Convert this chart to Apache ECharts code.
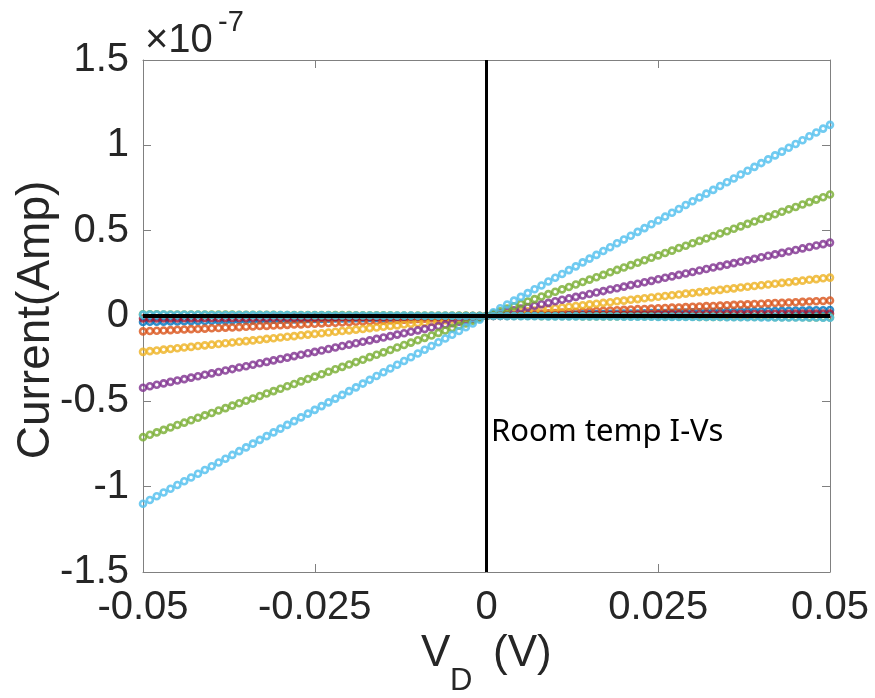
<!DOCTYPE html>
<html>
<head>
<meta charset="utf-8">
<script src="https://cdn.jsdelivr.net/npm/echarts@6/dist/echarts.min.js"></script>
<style>html,body{margin:0;padding:0;background:#fff}#c{width:875px;height:698px}</style>
</head>
<body>
<div id="c"></div>
<script>
// Drain voltage (V)
const vd = [
-0.050,-0.049,-0.048,-0.047,-0.046,-0.045,-0.044,-0.043,-0.042,-0.041,
-0.040,-0.039,-0.038,-0.037,-0.036,-0.035,-0.034,-0.033,-0.032,-0.031,
-0.030,-0.029,-0.028,-0.027,-0.026,-0.025,-0.024,-0.023,-0.022,-0.021,
-0.020,-0.019,-0.018,-0.017,-0.016,-0.015,-0.014,-0.013,-0.012,-0.011,
-0.010,-0.009,-0.008,-0.007,-0.006,-0.005,-0.004,-0.003,-0.002,-0.001,
0.000,
0.001,0.002,0.003,0.004,0.005,0.006,0.007,0.008,0.009,0.010,
0.011,0.012,0.013,0.014,0.015,0.016,0.017,0.018,0.019,0.020,
0.021,0.022,0.023,0.024,0.025,0.026,0.027,0.028,0.029,0.030,
0.031,0.032,0.033,0.034,0.035,0.036,0.037,0.038,0.039,0.040,
0.041,0.042,0.043,0.044,0.045,0.046,0.047,0.048,0.049,0.050];

// Currents in units of 1e-7 A
const iBlue = [
-0.035,-0.034,-0.034,-0.033,-0.032,-0.032,-0.031,-0.030,-0.029,-0.029,
-0.028,-0.027,-0.027,-0.026,-0.025,-0.025,-0.024,-0.023,-0.022,-0.022,
-0.021,-0.020,-0.020,-0.019,-0.018,-0.018,-0.017,-0.016,-0.015,-0.015,
-0.014,-0.013,-0.013,-0.012,-0.011,-0.011,-0.010,-0.009,-0.008,-0.008,
-0.007,-0.006,-0.006,-0.005,-0.004,-0.004,-0.003,-0.002,-0.001,-0.001,
0,
0.001,0.001,0.002,0.003,0.004,0.004,0.005,0.006,0.006,0.007,
0.008,0.008,0.009,0.010,0.011,0.011,0.012,0.013,0.013,0.014,
0.015,0.015,0.016,0.017,0.018,0.018,0.019,0.020,0.020,0.021,
0.022,0.022,0.023,0.024,0.025,0.025,0.026,0.027,0.027,0.028,
0.029,0.029,0.030,0.031,0.032,0.032,0.033,0.034,0.034,0.035];

const iOrange = [
-0.090,-0.088,-0.086,-0.085,-0.083,-0.081,-0.079,-0.077,-0.076,-0.074,
-0.072,-0.070,-0.068,-0.067,-0.065,-0.063,-0.061,-0.059,-0.058,-0.056,
-0.054,-0.052,-0.050,-0.049,-0.047,-0.045,-0.043,-0.041,-0.040,-0.038,
-0.036,-0.034,-0.032,-0.031,-0.029,-0.027,-0.025,-0.023,-0.022,-0.020,
-0.018,-0.016,-0.014,-0.013,-0.011,-0.009,-0.007,-0.005,-0.004,-0.002,
0,
0.002,0.004,0.005,0.007,0.009,0.011,0.013,0.014,0.016,0.018,
0.020,0.022,0.023,0.025,0.027,0.029,0.031,0.032,0.034,0.036,
0.038,0.040,0.041,0.043,0.045,0.047,0.049,0.050,0.052,0.054,
0.056,0.058,0.059,0.061,0.063,0.065,0.067,0.068,0.070,0.072,
0.074,0.076,0.077,0.079,0.081,0.083,0.085,0.086,0.088,0.091];

const iYellow = [
-0.210,-0.206,-0.202,-0.197,-0.193,-0.189,-0.185,-0.181,-0.176,-0.172,
-0.168,-0.164,-0.160,-0.155,-0.151,-0.147,-0.143,-0.139,-0.134,-0.130,
-0.126,-0.122,-0.118,-0.113,-0.109,-0.105,-0.101,-0.097,-0.092,-0.088,
-0.084,-0.080,-0.076,-0.071,-0.067,-0.063,-0.059,-0.055,-0.050,-0.046,
-0.042,-0.038,-0.034,-0.029,-0.025,-0.021,-0.017,-0.013,-0.008,-0.004,
0,
0.005,0.009,0.014,0.018,0.023,0.027,0.032,0.036,0.041,0.045,
0.050,0.054,0.059,0.063,0.068,0.072,0.077,0.081,0.086,0.090,
0.095,0.099,0.104,0.108,0.113,0.117,0.122,0.126,0.131,0.135,
0.140,0.144,0.149,0.153,0.158,0.162,0.167,0.171,0.176,0.180,
0.185,0.189,0.194,0.198,0.203,0.207,0.212,0.216,0.221,0.225];

const iPurple = [
-0.420,-0.412,-0.403,-0.395,-0.386,-0.378,-0.370,-0.361,-0.353,-0.344,
-0.336,-0.328,-0.319,-0.311,-0.302,-0.294,-0.286,-0.277,-0.269,-0.260,
-0.252,-0.244,-0.235,-0.227,-0.218,-0.210,-0.202,-0.193,-0.185,-0.176,
-0.168,-0.160,-0.151,-0.143,-0.134,-0.126,-0.118,-0.109,-0.101,-0.092,
-0.084,-0.076,-0.067,-0.059,-0.050,-0.042,-0.034,-0.025,-0.017,-0.008,
0,
0.009,0.017,0.026,0.034,0.043,0.052,0.060,0.069,0.077,0.086,
0.095,0.103,0.112,0.120,0.129,0.138,0.146,0.155,0.163,0.172,
0.181,0.189,0.198,0.206,0.215,0.224,0.232,0.241,0.249,0.258,
0.267,0.275,0.284,0.292,0.301,0.310,0.318,0.327,0.335,0.344,
0.353,0.361,0.370,0.378,0.387,0.396,0.404,0.413,0.421,0.430];

const iGreen = [
-0.710,-0.696,-0.682,-0.667,-0.653,-0.639,-0.625,-0.611,-0.596,-0.582,
-0.568,-0.554,-0.540,-0.525,-0.511,-0.497,-0.483,-0.469,-0.454,-0.440,
-0.426,-0.412,-0.398,-0.383,-0.369,-0.355,-0.341,-0.327,-0.312,-0.298,
-0.284,-0.270,-0.256,-0.241,-0.227,-0.213,-0.199,-0.185,-0.170,-0.156,
-0.142,-0.128,-0.114,-0.099,-0.085,-0.071,-0.057,-0.043,-0.028,-0.014,
0,
0.014,0.028,0.043,0.057,0.071,0.085,0.099,0.114,0.128,0.142,
0.156,0.170,0.185,0.199,0.213,0.227,0.241,0.256,0.270,0.284,
0.298,0.312,0.327,0.341,0.355,0.369,0.383,0.398,0.412,0.426,
0.440,0.454,0.469,0.483,0.497,0.511,0.525,0.540,0.554,0.568,
0.582,0.596,0.611,0.625,0.639,0.653,0.667,0.682,0.696,0.712];

const iLightBlue = [
-1.100,-1.078,-1.056,-1.034,-1.012,-0.990,-0.968,-0.946,-0.924,-0.902,
-0.880,-0.858,-0.836,-0.814,-0.792,-0.770,-0.748,-0.726,-0.704,-0.682,
-0.660,-0.638,-0.616,-0.594,-0.572,-0.550,-0.528,-0.506,-0.484,-0.462,
-0.440,-0.418,-0.396,-0.374,-0.352,-0.330,-0.308,-0.286,-0.264,-0.242,
-0.220,-0.198,-0.176,-0.154,-0.132,-0.110,-0.088,-0.066,-0.044,-0.022,
0,
0.022,0.045,0.067,0.090,0.112,0.134,0.157,0.179,0.202,0.224,
0.246,0.269,0.291,0.314,0.336,0.358,0.381,0.403,0.426,0.448,
0.470,0.493,0.515,0.538,0.560,0.582,0.605,0.627,0.650,0.672,
0.694,0.717,0.739,0.762,0.784,0.806,0.829,0.851,0.874,0.896,
0.918,0.941,0.963,0.986,1.008,1.030,1.053,1.075,1.098,1.120];

const iDarkRed = [
-0.015,-0.015,-0.014,-0.014,-0.014,-0.014,-0.013,-0.013,-0.013,-0.012,
-0.012,-0.012,-0.011,-0.011,-0.011,-0.011,-0.010,-0.010,-0.010,-0.009,
-0.009,-0.009,-0.008,-0.008,-0.008,-0.008,-0.007,-0.007,-0.007,-0.006,
-0.006,-0.006,-0.005,-0.005,-0.005,-0.005,-0.004,-0.004,-0.004,-0.003,
-0.003,-0.003,-0.002,-0.002,-0.002,-0.002,-0.001,-0.001,-0.001,0.000,
0,
0.000,0.001,0.001,0.001,0.002,0.002,0.002,0.002,0.003,0.003,
0.003,0.004,0.004,0.004,0.005,0.005,0.005,0.005,0.006,0.006,
0.006,0.007,0.007,0.007,0.008,0.008,0.008,0.008,0.009,0.009,
0.009,0.010,0.010,0.010,0.011,0.011,0.011,0.011,0.012,0.012,
0.012,0.013,0.013,0.013,0.014,0.014,0.014,0.014,0.015,0.015];

const iGreen2 = [
0.010,0.010,0.010,0.009,0.009,0.009,0.009,0.009,0.009,0.008,
0.008,0.008,0.008,0.008,0.007,0.007,0.007,0.007,0.007,0.007,
0.006,0.006,0.006,0.006,0.006,0.005,0.005,0.005,0.005,0.005,
0.005,0.004,0.004,0.004,0.004,0.004,0.004,0.003,0.003,0.003,
0.003,0.003,0.002,0.002,0.002,0.002,0.002,0.002,0.001,0.001,
0.001,
0.001,0.001,0.000,0.000,0.000,0.000,0.000,-0.001,-0.001,-0.001,
-0.001,-0.001,-0.001,-0.002,-0.002,-0.002,-0.002,-0.002,-0.003,-0.003,
-0.003,-0.003,-0.003,-0.003,-0.004,-0.004,-0.004,-0.004,-0.004,-0.004,
-0.005,-0.005,-0.005,-0.005,-0.005,-0.006,-0.006,-0.006,-0.006,-0.006,
-0.006,-0.007,-0.007,-0.007,-0.007,-0.007,-0.008,-0.008,-0.008,-0.008];

const iLightBlue2 = [
0.008,0.008,0.008,0.008,0.007,0.007,0.007,0.007,0.007,0.007,
0.006,0.006,0.006,0.006,0.006,0.006,0.005,0.005,0.005,0.005,
0.005,0.005,0.004,0.004,0.004,0.004,0.004,0.004,0.003,0.003,
0.003,0.003,0.003,0.003,0.002,0.002,0.002,0.002,0.002,0.002,
0.001,0.001,0.001,0.001,0.001,0.001,0.000,0.000,0.000,0.000,
0.000,
0.000,0.000,-0.001,-0.001,-0.001,-0.001,-0.001,-0.001,-0.002,-0.002,
-0.002,-0.002,-0.002,-0.002,-0.003,-0.003,-0.003,-0.003,-0.003,-0.004,
-0.004,-0.004,-0.004,-0.004,-0.005,-0.005,-0.005,-0.005,-0.005,-0.006,
-0.006,-0.006,-0.006,-0.006,-0.007,-0.007,-0.007,-0.007,-0.007,-0.008,
-0.008,-0.008,-0.008,-0.009,-0.009,-0.009,-0.009,-0.009,-0.010,-0.010];

const seriesList = [
  {name: 'S1', values: iBlue, color: '#0072BD'},
  {name: 'S2', values: iOrange, color: '#D95319'},
  {name: 'S3', values: iYellow, color: '#EDB120'},
  {name: 'S4', values: iPurple, color: '#7E2F8E'},
  {name: 'S5', values: iGreen, color: '#77AC30'},
  {name: 'S6', values: iLightBlue, color: '#4DBEEE'},
  {name: 'S7', values: iDarkRed, color: '#A2142F'},
  {name: 'S8', values: iGreen2, color: '#77AC30'},
  {name: 'S9', values: iLightBlue2, color: '#4DBEEE'}
];

const xTicks = [-0.05, -0.025, 0, 0.025, 0.05];
const yTicks = [-1.5, -1, -0.5, 0, 0.5, 1, 1.5];

const FONT = '"Liberation Sans", Arial, Helvetica, sans-serif';
const AX = '#808080';
const TXT = '#262626';

const chart = echarts.init(document.getElementById('c'), null, {renderer: 'canvas'});

const series = seriesList.map((s, k) => ({
  name: s.name,
  type: 'scatter',
  symbol: 'circle',
  symbolSize: 6,
  itemStyle: {color: 'rgba(255,255,255,0)', borderColor: s.color, borderWidth: 2.6},
  emphasis: {disabled: true},
  silent: true,
  z: 2,
  data: vd.map((v, i) => [v, s.values[i]])
}));

series.push({
  type: 'line',
  data: [],
  silent: true,
  z: 5,
  markLine: {
    silent: true,
    symbol: ['none', 'none'],
    label: {show: false},
    animation: false,
    lineStyle: {color: '#000', width: 3, type: 'solid'},
    data: [{xAxis: 0}, {yAxis: 0, lineStyle: {width: 4}}]
  }
});

const axisCommon = {
  type: 'value',
  axisLine: {show: true, onZero: false, lineStyle: {color: AX, width: 1}},
  axisTick: {show: true, inside: true, length: 8, lineStyle: {color: AX, width: 1}},
  splitLine: {show: false}
};

chart.setOption({
  animation: false,
  backgroundColor: '#fff',
  grid: {left: 143, top: 60, right: 45, bottom: 126, containLabel: false},
  xAxis: [
    Object.assign({}, axisCommon, {
      position: 'bottom', min: xTicks[0], max: xTicks[xTicks.length - 1], interval: 0.025,
      axisLabel: {fontSize: 40, fontFamily: FONT, color: TXT, margin: 16,
        formatter: v => String(+v.toFixed(3))}
    }),
    Object.assign({}, axisCommon, {
      position: 'top', min: xTicks[0], max: xTicks[xTicks.length - 1], interval: 0.025,
      axisLabel: {show: false}
    })
  ],
  yAxis: [
    Object.assign({}, axisCommon, {
      position: 'left', min: yTicks[0], max: yTicks[yTicks.length - 1], interval: 0.5,
      axisLabel: {fontSize: 40, fontFamily: FONT, color: TXT, margin: 14,
        formatter: v => String(+v.toFixed(2))}
    }),
    Object.assign({}, axisCommon, {
      position: 'right', min: yTicks[0], max: yTicks[yTicks.length - 1], interval: 0.5,
      axisLabel: {show: false}
    })
  ],
  graphic: [
    {type: 'text', x: 145, y: 61, silent: true,
      style: {text: '×10', font: '40px ' + FONT, fill: TXT, textAlign: 'left', textVerticalAlign: 'bottom'}},
    {type: 'text', x: 218, y: 37, silent: true,
      style: {text: '-7', font: '29px ' + FONT, fill: TXT, textAlign: 'left', textVerticalAlign: 'bottom'}},
    {type: 'text', x: 36, y: 320, rotation: Math.PI / 2, silent: true,
      style: {text: 'Current(Amp)', font: '46px ' + FONT, fill: TXT, textAlign: 'center', textVerticalAlign: 'middle'}},
    {type: 'text', x: 421, y: 676, silent: true,
      style: {text: 'V', font: '44px ' + FONT, fill: TXT, textAlign: 'left', textVerticalAlign: 'bottom'}},
    {type: 'text', x: 450, y: 697, silent: true,
      style: {text: 'D', font: '31px ' + FONT, fill: TXT, textAlign: 'left', textVerticalAlign: 'bottom'}},
    {type: 'text', x: 493, y: 676, silent: true,
      style: {text: '(V)', font: '44px ' + FONT, fill: TXT, textAlign: 'left', textVerticalAlign: 'bottom'}},
    {type: 'text', x: 491, y: 432, silent: true,
      style: {text: 'Room temp I-Vs', font: '31px "Noto Sans", "Open Sans", sans-serif', fill: '#000', textAlign: 'left', textVerticalAlign: 'middle'}}
  ],
  series: series
});
</script>
</body>
</html>
